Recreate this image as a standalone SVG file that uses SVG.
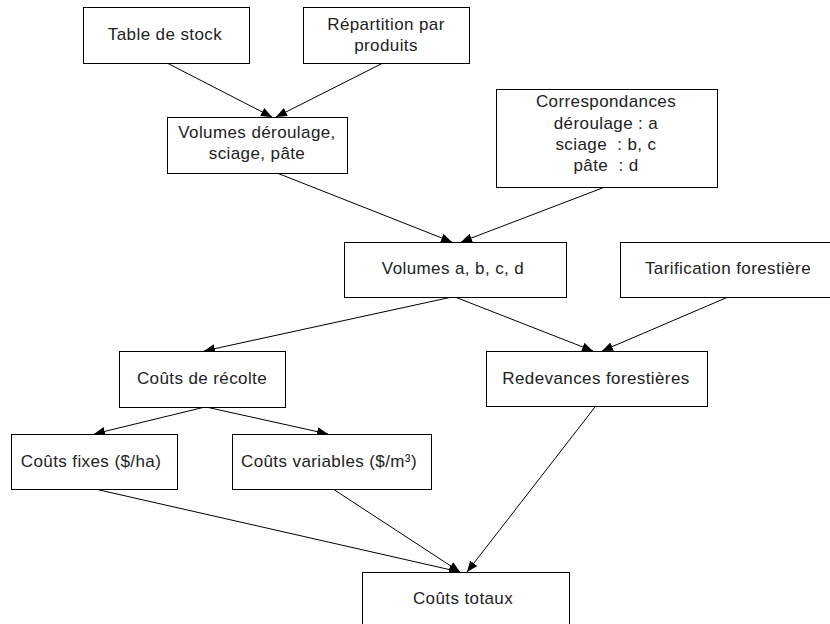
<svg xmlns="http://www.w3.org/2000/svg" width="830" height="624" viewBox="0 0 830 624">
<defs>
<style>
.box{fill:#fff;stroke:#000;stroke-width:1}
.t{font-family:"Liberation Sans",Arial,sans-serif;font-size:17px;letter-spacing:0.4px;fill:#222;text-anchor:middle;white-space:pre}
.c line{stroke:#000;stroke-width:1;marker-end:url(#ah)}
</style>
<marker id="ah" markerUnits="userSpaceOnUse" markerWidth="12" markerHeight="10" refX="11" refY="4.5" orient="auto">
<path d="M0,0 L11,4.5 L0,9 z" fill="#000"/>
</marker>
</defs>
<rect width="830" height="624" fill="#fff"/>
<g class="c" id="connectors">
<line x1="167" y1="63" x2="272" y2="117"/>
<line x1="383" y1="63" x2="276" y2="117"/>
<line x1="277" y1="173" x2="452" y2="242"/>
<line x1="605" y1="187" x2="461" y2="242"/>
<line x1="452" y1="297" x2="204" y2="351"/>
<line x1="455" y1="297" x2="593" y2="351"/>
<line x1="728" y1="297" x2="602" y2="351"/>
<line x1="205" y1="407" x2="94" y2="434"/>
<line x1="206" y1="407" x2="328" y2="434"/>
<line x1="95" y1="489" x2="460" y2="572"/>
<line x1="333" y1="489" x2="460" y2="572"/>
<line x1="595" y1="407" x2="467" y2="572"/>
</g>
<g id="n1"><rect class="box" x="83.5" y="7.5" width="166" height="56"/><text class="t" x="165" y="40">Table de stock</text></g>
<g id="n2"><rect class="box" x="303.5" y="7.5" width="166" height="56"/><text class="t" x="386" y="30">Répartition par</text><text class="t" x="386" y="51">produits</text></g>
<g id="n3"><rect class="box" x="167.5" y="117.5" width="180" height="56"/><text class="t" x="257" y="138">Volumes déroulage,</text><text class="t" x="257" y="159">sciage, pâte</text></g>
<g id="n4"><rect class="box" x="496.5" y="89.5" width="221" height="98"/><text class="t" x="606" y="107">Correspondances</text><text class="t" x="606" y="129">déroulage : a</text><text class="t" x="606" y="150" xml:space="preserve">sciage  : b, c</text><text class="t" x="606" y="171" xml:space="preserve">pâte  : d</text></g>
<g id="n5"><rect class="box" x="344.5" y="242.5" width="222" height="55"/><text class="t" x="453" y="274">Volumes a, b, c, d</text></g>
<g id="n6"><rect class="box" x="620.5" y="242.5" width="220" height="55"/><text class="t" x="728" y="274">Tarification forestière</text></g>
<g id="n7"><rect class="box" x="119.5" y="351.5" width="166" height="56"/><text class="t" x="202" y="384">Coûts de récolte</text></g>
<g id="n8"><rect class="box" x="486.5" y="351.5" width="221" height="55"/><text class="t" x="596" y="384">Redevances forestières</text></g>
<g id="n9"><rect class="box" x="11.5" y="434.5" width="166" height="55"/><text class="t" x="91" y="467">Coûts fixes ($/ha)</text></g>
<g id="n10"><rect class="box" x="232.5" y="434.5" width="199" height="55"/><text class="t" x="329" y="467">Coûts variables ($/m³)</text></g>
<g id="n11"><rect class="box" x="362.5" y="572.5" width="207" height="60"/><text class="t" x="463" y="604">Coûts totaux</text></g>
</svg>
